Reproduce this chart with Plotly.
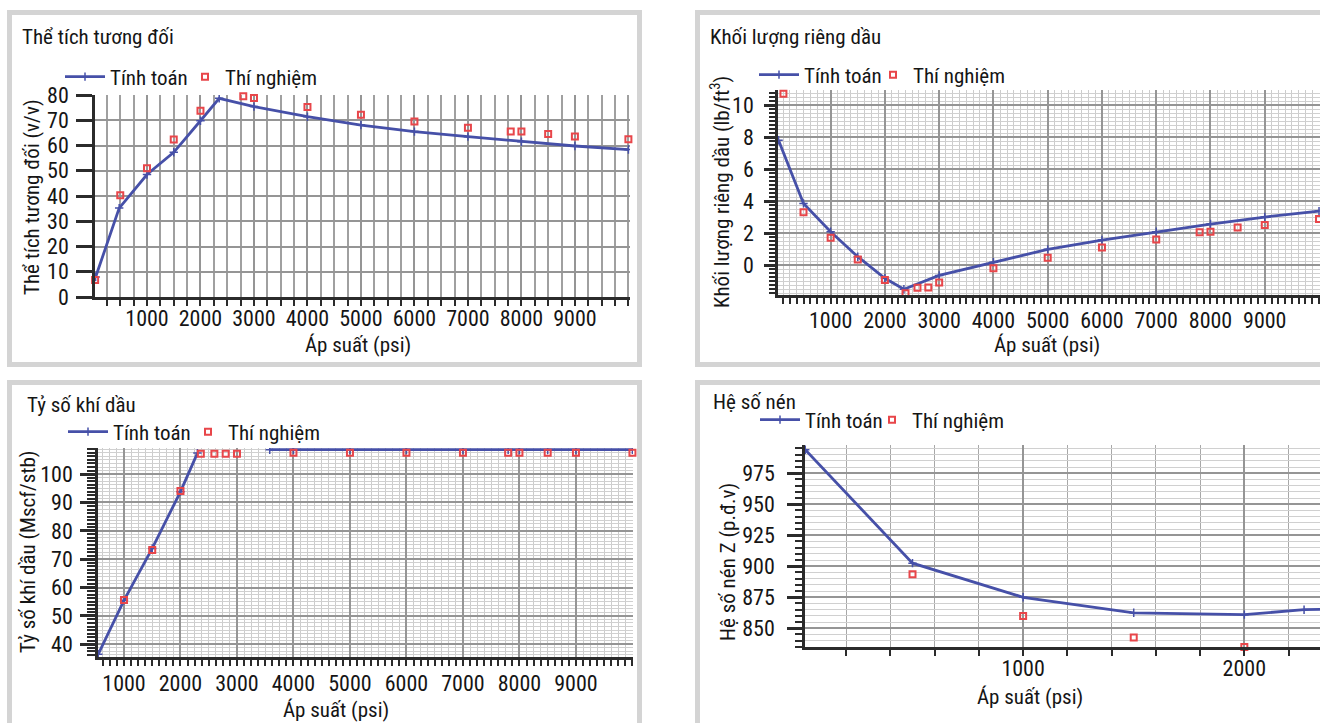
import plotly.graph_objects as go

W, H = 1320, 723

# ---------------- data ----------------
# Panel 1: Thể tích tương đối (v/v)
p1_calc_x = [40, 480, 1000, 1500, 2000, 2350, 3000, 4000, 5000, 6000, 7000, 8000, 9000, 10000]
p1_calc_y = [7.9, 35.2, 48.5, 57.3, 69.8, 78.7, 75.4, 71.4, 68.1, 65.5, 63.5, 61.5, 59.8, 58.4]
p1_exp_x = [30, 500, 1000, 1500, 2000, 2800, 3000, 4000, 5000, 6000, 7000, 7800, 8000, 8500, 9000, 10000]
p1_exp_y = [6.7, 40.3, 51, 62.4, 73.8, 79.5, 78.8, 75.2, 72.2, 69.5, 67.0, 65.5, 65.5, 64.6, 63.6, 62.5]

# Panel 2: Khối lượng riêng dầu (lb/ft3)
p2_calc_x = [40, 500, 1000, 1500, 2000, 2350, 3000, 4000, 5000, 6000, 7000, 8000, 9000, 10000]
p2_calc_y = [7.8, 3.85, 2.08, 0.52, -0.83, -1.52, -0.65, 0.18, 0.98, 1.56, 2.08, 2.56, 3.0, 3.37]
p2_exp_x = [130, 500, 1000, 1500, 2000, 2380, 2600, 2800, 3000, 4000, 5000, 6000, 7000, 7800, 8000, 8500, 9000, 10000]
p2_exp_y = [10.7, 3.3, 1.7, 0.35, -0.94, -1.77, -1.42, -1.4, -1.1, -0.2, 0.46, 1.1, 1.6, 2.04, 2.08, 2.35, 2.5, 2.87]

# Panel 3: Tỷ số khí dầu (Mscf/stb)
p3_calc_x = [545, 1000, 1500, 2000, 2300, 2950, 3580, 4000, 5000, 6000, 7000, 7800, 8000, 8500, 9000, 10000]
p3_calc_y = [36.5, 55.5, 73.8, 93.8, 107.4, None, 108.6, 108.6, 108.6, 108.6, 108.6, 108.6, 108.6, 108.6, 108.6, 108.6]
p3_exp_x = [1000, 1500, 2000, 2360, 2600, 2800, 3000, 4000, 5000, 6000, 7000, 7800, 8000, 8500, 9000, 10000]
p3_exp_y = [55.6, 73.2, 94.0, 107.2, 107.2, 107.2, 107.2, 107.5, 107.5, 107.5, 107.5, 107.5, 107.5, 107.5, 107.5, 107.5]

# Panel 4: Hệ số nén Z (p.đ.v)
p4_calc_x = [15, 500, 1000, 1500, 2000, 2270, 2400]
p4_calc_y = [994, 902.5, 875, 862.5, 861, 865, 865.5]
p4_exp_x = [500, 1000, 1500, 2000]
p4_exp_y = [893.5, 860, 842.5, 835]

press_ticks = [1000, 2000, 3000, 4000, 5000, 6000, 7000, 8000, 9000]

titles = ["Thể tích tương đối", "Khối lượng riêng dầu", "Tỷ số khí dầu", "Hệ số nén"]
ytitles = ["Thể tích tương đối (v/v)", "Khối lượng riêng dầu (lb/ft<sup>3</sup>)",
           "Tỷ số khí dầu (Mscf/stb)", "Hệ số nén Z (p.đ.v)"]
xtitle = "Áp suất (psi)"
name_calc = "Tính toán"
name_exp = "Thí nghiệm"

# ---------------- style ----------------
FONT = "Roboto Condensed, DejaVu Sans Condensed, sans-serif"
BLUE = "#4650a8"
RED = "#e8464a"
TXT = "#151515"
AX = "#2b2b2b"
FRAME = "#d4d4d4"


def px(x):
    return x / W


def py(y):
    return 1 - y / H


fig = go.Figure()

panels = [
    dict(cx=p1_calc_x, cy=p1_calc_y, ex=p1_exp_x, ey=p1_exp_y, ax=""),
    dict(cx=p2_calc_x, cy=p2_calc_y, ex=p2_exp_x, ey=p2_exp_y, ax="2"),
    dict(cx=p3_calc_x, cy=p3_calc_y, ex=p3_exp_x, ey=p3_exp_y, ax="3"),
    dict(cx=p4_calc_x, cy=p4_calc_y, ex=p4_exp_x, ey=p4_exp_y, ax="4"),
]
legend_names = ["legend"] + ["legend%d" % i for i in range(2, 9)]
for i, p in enumerate(panels):
    fig.add_trace(go.Scatter(
        x=p["cx"], y=p["cy"], name=name_calc, mode="lines+markers",
        line=dict(color=BLUE, width=2.8),
        marker=dict(symbol="cross-thin", size=6, line=dict(color=BLUE, width=1.5)),
        xaxis="x" + p["ax"], yaxis="y" + p["ax"], legend=legend_names[2 * i]))
    fig.add_trace(go.Scatter(
        x=p["ex"], y=p["ey"], name=name_exp, mode="markers",
        marker=dict(symbol="square-open", size=6, color=RED, line=dict(color=RED, width=2)),
        xaxis="x" + p["ax"], yaxis="y" + p["ax"], legend=legend_names[2 * i + 1], cliponaxis=False))

# plot-area boxes in pixels (left, right, top, bottom)
boxes = {
    "": (95, 630, 95, 297),
    "2": (778, 1320, 90, 295),
    "3": (98, 633, 448, 657),
    "4": (805, 1320, 445, 647),
}


def xaxis_cfg(key, rng, tickvals, minor_dtick, minor_grid_color, minor_grid_w, standoff):
    l, r, t, b = boxes[key]
    return dict(
        domain=[px(l), px(r)], range=rng, anchor="y" + key, automargin=False,
        tickmode="array", tickvals=tickvals,
        showline=True, linecolor=AX, linewidth=2.5,
        ticks="outside", ticklen=6, tickwidth=2, tickcolor=AX,
        showgrid=True, gridcolor="#959595", gridwidth=1.6,
        minor=dict(tickmode="linear", tick0=0, dtick=minor_dtick, ticks="outside", ticklen=6,
                   tickwidth=2, tickcolor=AX, showgrid=True, gridcolor=minor_grid_color,
                   gridwidth=minor_grid_w),
        tickfont=dict(family=FONT, size=22, color=TXT), ticklabelstandoff=standoff,
        zeroline=False, fixedrange=True)


def yaxis_cfg(key, rng, tickvals, ticklen, minor_dtick, minor_len, minor_grid_color, standoff):
    l, r, t, b = boxes[key]
    return dict(
        domain=[py(b), py(t)], range=rng, anchor="x" + key, automargin=False,
        tickmode="array", tickvals=tickvals,
        showline=True, linecolor=AX, linewidth=2.5,
        ticks="outside", ticklen=ticklen, tickwidth=2.5, tickcolor=AX,
        showgrid=True, gridcolor="#959595", gridwidth=1.6,
        minor=dict(tickmode="linear", tick0=0, dtick=minor_dtick, ticks="outside" if minor_len else "",
                   ticklen=max(minor_len, 1), tickwidth=1.5, tickcolor=AX,
                   showgrid=True, gridcolor=minor_grid_color, gridwidth=1),
        tickfont=dict(family=FONT, size=22, color=TXT), ticklabelstandoff=standoff,
        zeroline=False, fixedrange=True)


fig.update_layout(
    xaxis=xaxis_cfg("", [28, 10030], press_ticks, 250, "#a0a0a0", 1.5, -6),
    yaxis=yaxis_cfg("", [0, 80], [0, 10, 20, 30, 40, 50, 60, 70, 80], 16, 5, 0, "rgba(0,0,0,0)", 3),
    xaxis2=xaxis_cfg("2", [30, 10018], press_ticks, 125, "#cccccc", 1, -2),
    yaxis2=yaxis_cfg("2", [-1.875, 10.94], [0, 2, 4, 6, 8, 10], 11, 0.25, 6, "#d0d0d0", 6),
    xaxis3=xaxis_cfg("3", [540, 10010], press_ticks, 125, "#cccccc", 1, -1),
    yaxis3=yaxis_cfg("3", [35.5, 109.2], [40, 50, 60, 70, 80, 90, 100], 15, 1.25, 8, "#d0d0d0", 3),
    xaxis4=xaxis_cfg("4", [14, 2342], [1000, 2000], 200, "#a8a8a8", 1, -6),
    yaxis4=yaxis_cfg("4", [834.9, 997.8], [850, 875, 900, 925, 950, 975], 15, 5, 7, "#d0d0d0", 8),
)

# legends: (x of box left, y centre, itemwidth); one legend per entry
legend_pos = [(60, 77, 40), (185, 77, 30),
              (754, 75, 40), (873, 75, 30),
              (63, 432, 40), (188, 432, 30),
              (755, 420, 40), (872, 420, 30)]
for lg, (lx, ly, iw) in zip(legend_names, legend_pos):
    fig.update_layout({lg: dict(
        x=px(lx), y=py(ly), xanchor="left", yanchor="middle", orientation="h",
        bgcolor="rgba(255,255,255,0)", borderwidth=0, itemwidth=iw,
        font=dict(family=FONT, size=21, color=TXT))})

# panel frames
frames = [(9.5, 639.5, 12.5, 364.5), (697.5, 1340, 12.5, 364.5),
          (9.5, 639.5, 382.5, 740), (697.5, 1340, 382.5, 740)]
for x0, x1, y0, y1 in frames:
    fig.add_shape(type="rect", xref="paper", yref="paper", x0=px(x0), x1=px(x1), y0=py(y1), y1=py(y0),
                  line=dict(color=FRAME, width=5), fillcolor="rgba(0,0,0,0)", layer="below")

# titles and axis titles (annotations)
title_pos = [(20, 37), (708, 37), (25, 405), (711, 402)]
for t, (tx, ty) in zip(titles, title_pos):
    fig.add_annotation(text=t, x=px(tx), y=py(ty), xref="paper", yref="paper", xanchor="left",
                       yanchor="middle", showarrow=False, font=dict(family=FONT, size=21, color=TXT))

xt_pos = [(358, 345), (1047, 345), (336, 710), (1030, 697)]
for (tx, ty) in xt_pos:
    fig.add_annotation(text=xtitle, x=px(tx), y=py(ty), xref="paper", yref="paper", xanchor="center",
                       yanchor="middle", showarrow=False, font=dict(family=FONT, size=21, color=TXT))

yt_pos = [(32, 197), (720, 192), (28, 552), (728, 562)]
for t, (tx, ty) in zip(ytitles, yt_pos):
    fig.add_annotation(text=t, x=px(tx), y=py(ty), xref="paper", yref="paper", xanchor="center",
                       yanchor="middle", textangle=-90, showarrow=False,
                       font=dict(family=FONT, size=21, color=TXT))

fig.update_layout(width=W, height=H, margin=dict(l=0, r=0, t=0, b=0, pad=0, autoexpand=False),
                  paper_bgcolor="white", plot_bgcolor="white", showlegend=True)

fig.write_html("out.html", config={"displayModeBar": False},
               post_script="document.body.style.margin='0';document.body.style.overflow='hidden';")
